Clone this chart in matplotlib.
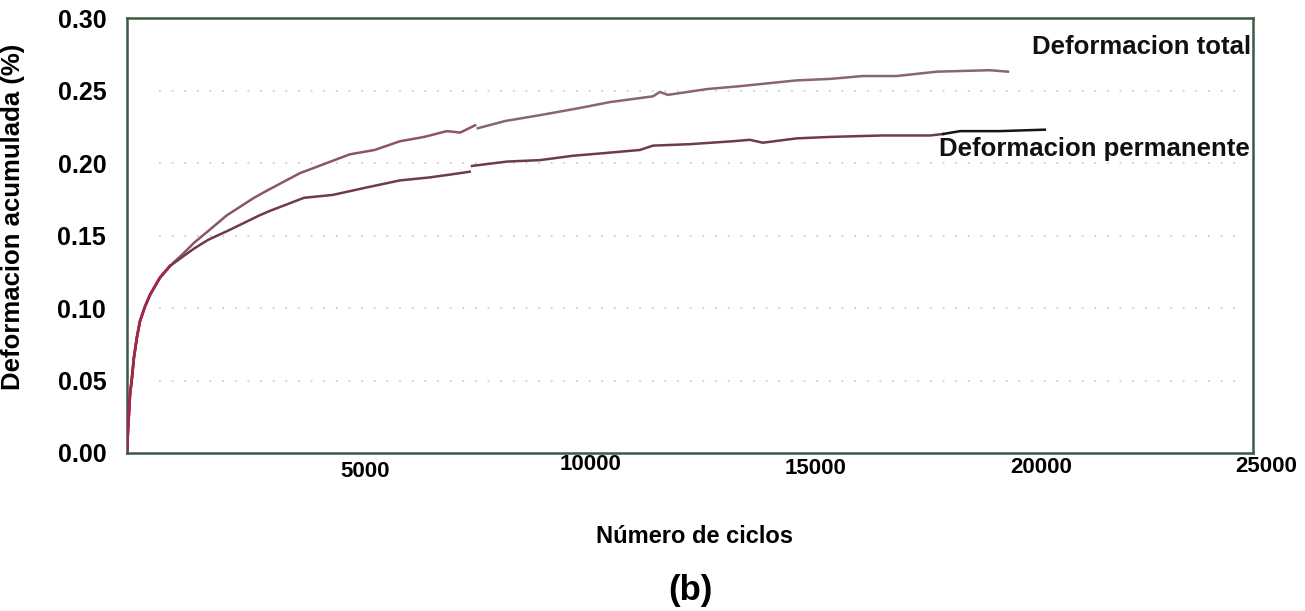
import matplotlib
matplotlib.use('Agg')
from matplotlib import pyplot as plt
from matplotlib.transforms import ScaledTranslation

plt.rcParams['font.family'] = ['Liberation Sans', 'DejaVu Sans']
plt.rcParams['font.weight'] = 'bold'

# deformacion total (two recorded segments)
total_ciclos_a = [0, 22, 67, 111, 155, 222, 289, 400, 510, 733, 955, 1265,
                  1490, 1800, 2220, 2820, 3110, 3840, 4950, 5500, 6060, 6600,
                  7100, 7400, 7730]
total_def_a = [0.000, 0.015, 0.040, 0.052, 0.066, 0.080, 0.091, 0.101, 0.109,
               0.121, 0.129, 0.138, 0.145, 0.153, 0.164, 0.176, 0.181, 0.193,
               0.206, 0.209, 0.215, 0.218, 0.222, 0.221, 0.226]
total_ciclos_b = [7790, 8400, 9170, 10060, 10720, 11680, 11830, 12010, 12880,
                  13610, 14870, 15610, 16340, 17090, 17980, 19160, 19560]
total_def_b = [0.224, 0.229, 0.233, 0.238, 0.242, 0.246, 0.249, 0.247, 0.251,
               0.253, 0.257, 0.258, 0.260, 0.260, 0.263, 0.264, 0.263]

# deformacion permanente
perm_ciclos_a = [0, 22, 67, 111, 155, 222, 289, 400, 510, 733, 955, 1265,
                 1490, 1800, 2220, 2950, 3175, 3930, 4570, 5300, 6060, 6700,
                 7170, 7610]
perm_def_a = [0.000, 0.015, 0.040, 0.052, 0.066, 0.080, 0.091, 0.101, 0.109,
              0.121, 0.129, 0.136, 0.141, 0.147, 0.153, 0.164, 0.167, 0.176,
              0.178, 0.183, 0.188, 0.190, 0.192, 0.194]
perm_ciclos_b = [7660, 8440, 9170, 9900, 10660, 11390, 11680, 12500, 13450,
                 13830, 14120, 14870, 15610, 16780, 17830, 18120]
perm_def_b = [0.198, 0.201, 0.202, 0.205, 0.207, 0.209, 0.212, 0.213, 0.215,
              0.216, 0.214, 0.217, 0.218, 0.219, 0.219, 0.220]
perm_ciclos_c = [18120, 18500, 19380, 20380]
perm_def_c = [0.220, 0.222, 0.222, 0.223]

yticks = [0.00, 0.05, 0.10, 0.15, 0.20, 0.25, 0.30]
xticks = [5000, 10000, 15000, 20000, 25000]

fig = plt.figure(figsize=(13.05, 6.11), dpi=100)
ax = fig.add_axes([0.0973, 0.2586, 0.8628, 0.7119])

# faint dotted grid
for yv in yticks[1:-1]:
    ax.plot([700, 24700], [yv, yv], color='#cfcfcf', lw=1.3,
            ls=(0, (1, 6)), zorder=1)

ax.plot(total_ciclos_a, total_def_a, color='#8a5565', lw=1.8, zorder=3)
ax.plot(total_ciclos_b, total_def_b, color='#8a6470', lw=1.8, zorder=3)
ax.plot(perm_ciclos_a, perm_def_a, color='#6e3a4c', lw=1.8, zorder=3)
ax.plot(perm_ciclos_b, perm_def_b, color='#6e3a4c', lw=1.8, zorder=3)
ax.plot(perm_ciclos_c, perm_def_c, color='#1a1214', lw=1.8, zorder=3)
ax.plot(total_ciclos_a[:11], total_def_a[:11], color='#a02848', lw=2.0, zorder=4)

ax.set_xlim(0, 25000)
ax.set_ylim(0, 0.30)

for s in ax.spines.values():
    s.set_color('#3c5a44')
    s.set_linewidth(1.8)

ax.set_yticks(yticks)
ax.set_yticklabels(['%.2f' % v for v in yticks], fontsize=18, fontweight='bold')
ax.set_xticks(xticks)
ax.set_xticklabels([str(v) for v in xticks], fontsize=16, fontweight='bold')
ax.tick_params(axis='y', length=0, pad=15)
ax.tick_params(axis='x', length=0, pad=3)

# labels on the x axis sit a little off their ticks
dy = [-4, 3, -1, 0, 1]
for lab, d in zip(ax.get_xticklabels(), dy):
    lab.set_transform(lab.get_transform() + ScaledTranslation(13 / 100., d / 100., fig.dpi_scale_trans))

ax.set_ylabel('Deformacion acumulada (%)', fontsize=18.5, fontweight='bold')
ax.yaxis.set_label_coords(-0.0906, 0.543)
ax.set_xlabel('Número de ciclos', fontsize=17, fontweight='bold', va='center')
ax.xaxis.set_label_coords(0.504, -0.193)

ax.text(24970, 0.280, 'Deformacion total', ha='right', va='center',
        fontsize=18.5, fontweight='bold', color='#111111')
ax.text(24930, 0.210, 'Deformacion permanente', ha='right', va='center',
        fontsize=18.5, fontweight='bold', color='#111111', zorder=5)

fig.text(0.529, 0.034, '(b)', ha='center', va='center', fontsize=25,
         fontweight='bold')

fig.savefig('out.png', dpi=100, facecolor='white')
